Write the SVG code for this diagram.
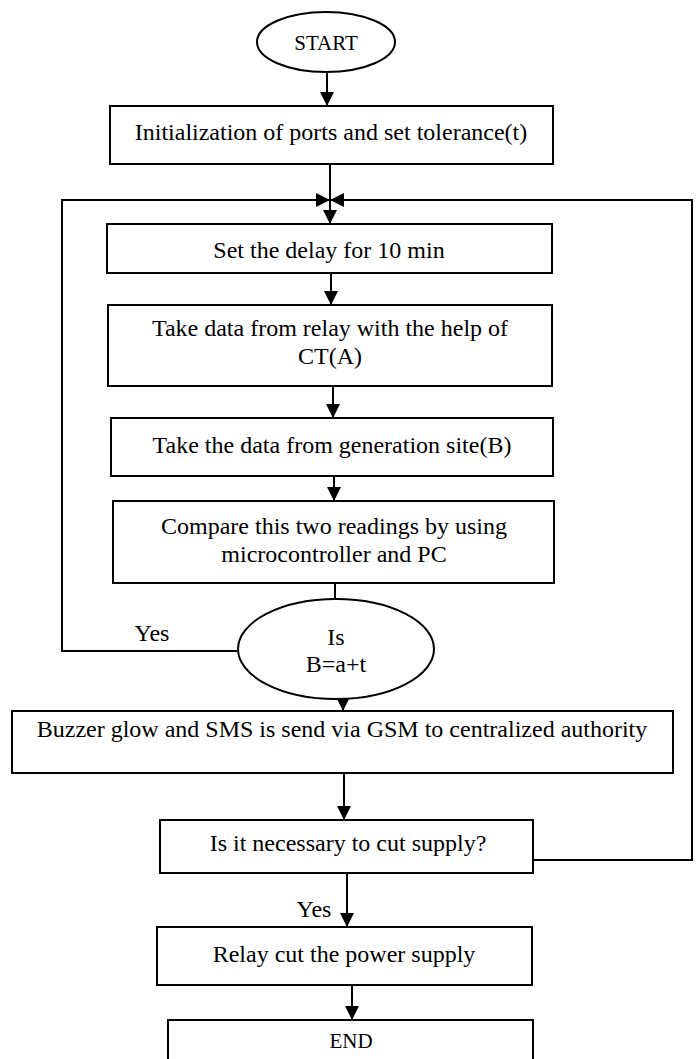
<svg xmlns="http://www.w3.org/2000/svg" width="697" height="1059" viewBox="0 0 697 1059">
<defs>
<style>
.box{fill:#fff;stroke:#000;stroke-width:2}
.ln{fill:none;stroke:#000;stroke-width:2}
.t{font-size:24px;fill:#000;text-anchor:middle}
.s{font-size:21px;fill:#000;text-anchor:middle}
</style>
<marker id="ah" viewBox="0 0 14 14" refX="14" refY="7" markerWidth="14" markerHeight="14" markerUnits="userSpaceOnUse" orient="auto">
<path d="M0,0 L14,7 L0,14 Z" fill="#000"/>
</marker>
</defs>
<rect width="697" height="1059" fill="#fff"/>
<g font-family="'Liberation Serif', 'Times New Roman', serif">
<g id="connectors">
<line class="ln" x1="327" y1="72" x2="327" y2="106" marker-end="url(#ah)"/>
<line class="ln" x1="330" y1="164" x2="330" y2="224" marker-end="url(#ah)"/>
<polyline class="ln" points="237,651 62,651 62,200 330,200" marker-end="url(#ah)"/>
<polyline class="ln" points="533,860 692,860 692,200 330,200" marker-end="url(#ah)"/>
<line class="ln" x1="331" y1="273" x2="331" y2="305" marker-end="url(#ah)"/>
<line class="ln" x1="333" y1="386" x2="333" y2="418" marker-end="url(#ah)"/>
<line class="ln" x1="334" y1="476" x2="334" y2="501" marker-end="url(#ah)"/>
<line class="ln" x1="335" y1="583" x2="335" y2="599"/>
<line class="ln" x1="343" y1="683" x2="343" y2="711" marker-end="url(#ah)"/>
<line class="ln" x1="344" y1="773" x2="344" y2="820" marker-end="url(#ah)"/>
<line class="ln" x1="347" y1="873" x2="347" y2="927" marker-end="url(#ah)"/>
<line class="ln" x1="352" y1="985" x2="352" y2="1020" marker-end="url(#ah)"/>
<text class="t" x="152" y="641">Yes</text>
<text class="t" x="314" y="917">Yes</text>
</g>
<g id="start">
<ellipse class="box" cx="326" cy="42" rx="69" ry="30"/>
<text class="s" x="326" y="50">START</text>
</g>
<g id="init">
<rect class="box" x="110" y="106" width="443" height="58"/>
<text class="t" x="331" y="140">Initialization of ports and set tolerance(t)</text>
</g>
<g id="delay">
<rect class="box" x="107" y="224" width="445" height="49"/>
<text class="t" x="329" y="258">Set the delay for 10 min</text>
</g>
<g id="takeA">
<rect class="box" x="108" y="305" width="444" height="81"/>
<text class="t" x="330" y="336">Take data from relay with the help of</text>
<text class="t" x="330" y="364">CT(A)</text>
</g>
<g id="takeB">
<rect class="box" x="111" y="418" width="442" height="58"/>
<text class="t" x="332" y="453">Take the data from generation site(B)</text>
</g>
<g id="compare">
<rect class="box" x="113" y="501" width="441" height="82"/>
<text class="t" x="334" y="534">Compare this two readings by using</text>
<text class="t" x="334" y="562">microcontroller and PC</text>
</g>
<g id="decision">
<ellipse class="box" cx="336" cy="649" rx="98" ry="50"/>
<text class="t" x="336" y="645">Is</text>
<text class="t" x="336" y="672">B=a+t</text>
</g>
<g id="buzzer">
<rect class="box" x="12" y="711" width="661" height="62"/>
<text class="t" x="342" y="737">Buzzer glow and SMS is send via GSM to centralized authority</text>
</g>
<g id="cut">
<rect class="box" x="160" y="820" width="373" height="53"/>
<text class="t" x="348" y="851">Is it necessary to cut supply?</text>
</g>
<g id="relay">
<rect class="box" x="157" y="927" width="375" height="58"/>
<text class="t" x="344" y="962">Relay cut the power supply</text>
</g>
<g id="end">
<rect class="box" x="168" y="1020" width="365" height="60"/>
<text class="s" x="351" y="1048">END</text>
</g>
</g>
</svg>
